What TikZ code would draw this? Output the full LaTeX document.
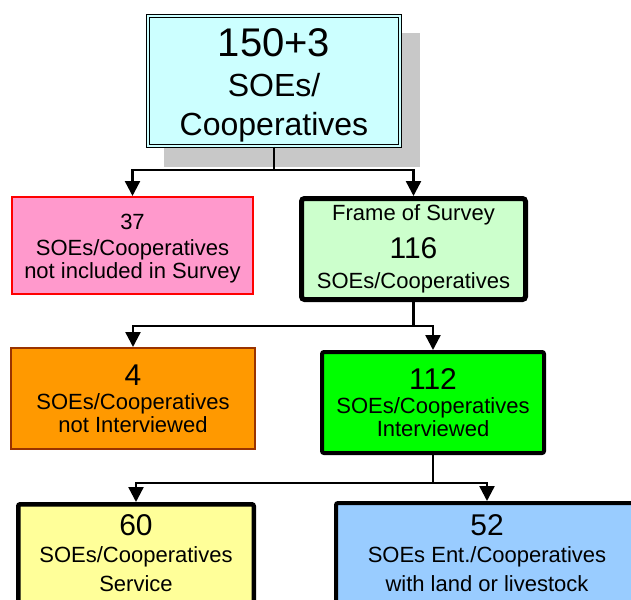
\documentclass[tikz,border=0pt]{standalone}
\usepackage{fontspec}
\setmainfont{Liberation Sans}
\usetikzlibrary{arrows.meta,shadows,calc}
\definecolor{topcyan}{HTML}{CCFFFF}
\definecolor{exclpink}{HTML}{FF99CC}
\definecolor{framegreen}{HTML}{CCFFCC}
\definecolor{notorange}{HTML}{FF9900}
\definecolor{notbrown}{HTML}{993300}
\definecolor{intgreen}{HTML}{00FF00}
\definecolor{servyellow}{HTML}{FFFF99}
\definecolor{landblue}{HTML}{99CCFF}
\definecolor{shadowgray}{HTML}{C8C8C8}
\newcommand{\txtfont}{\fontsize{22}{24}\selectfont}
\newcommand{\numfont}{\fontsize{30}{30}\selectfont}
\tikzset{
    block/.style = {draw, rectangle, inner sep=0pt, align=center, font=\txtfont},
    line/.style = {draw, line width=2.4pt},
    arrow/.style = {line, -{Triangle[length=15pt,width=15pt]}}
}

\begin{document}
\begin{tikzpicture}[x=1pt, y=-1pt]
    \useasboundingbox (0,0) rectangle (631,599);
    \clip (0,0) rectangle (631,599);
    % all units
    \node [block, fill=topcyan, line width=1.4pt, double=topcyan, double distance=1.6pt,
        minimum width=251.6pt, minimum height=129.6pt,
        drop shadow={shadow xshift=18pt, shadow yshift=-19pt, fill=shadowgray,
            draw=shadowgray, line width=4.4pt, opacity=1}]
        (total) at (274,81)
        {{\rule{0pt}{36pt}\fontsize{40}{40}\selectfont 150+3}\\[16pt]{\fontsize{32}{32}\selectfont SOEs/}\\[15pt]{\fontsize{32}{32}\selectfont Cooperatives}};
    % first split
    \node [block, fill=exclpink, draw=red, line width=2pt,
        minimum width=241pt, minimum height=97pt] (excl) at (132.5,245.5)
        {\rule{0pt}{20.6pt}37\\[2pt]SOEs/Cooperatives\\[-1pt]not included in Survey};
    \node [block, fill=framegreen, line width=5pt, rounded corners=3pt,
        minimum width=224pt, minimum height=101pt] (frame) at (413.5,249)
        {Frame of Survey\\[11pt]{\numfont 116}\\[6pt]SOEs/Cooperatives};
    % second split
    \node [block, fill=notorange, draw=notbrown, line width=2pt,
        minimum width=244pt, minimum height=101pt] (notint) at (133,398.5)
        {{\numfont 4}\\SOEs/Cooperatives\\[-1pt]not Interviewed};
    \node [block, fill=intgreen, line width=4pt, rounded corners=2pt,
        minimum width=222pt, minimum height=101pt] (interv) at (433,402.5)
        {{\numfont 112}\\SOEs/Cooperatives\\[-1pt]Interviewed};
    % third split
    \node [block, fill=servyellow, line width=4.5pt, rounded corners=2pt,
        minimum width=235.5pt, minimum height=98.3pt] (service) at (136,553.4)
        {{\numfont 60}\\[3pt]SOEs/Cooperatives\\[5pt]Service};
    \node [block, fill=landblue, line width=4pt, rounded corners=2pt,
        minimum width=302pt, minimum height=100.8pt] (land) at (487,553.4)
        {{\numfont 52}\\[3pt]SOEs Ent./Cooperatives\\[5pt]with land or livestock};
    % connectors
    \coordinate (split1) at (274,170);
    \coordinate (split2) at (413.5,326);
    \coordinate (split3) at (433,483);
    \draw [line] (total.south) -- (split1);
    \draw [arrow] (split1) -| (excl.north);
    \draw [arrow] (split1) -| (frame.north);
    \draw [line] (frame.south) -- (split2);
    \draw [arrow] (split2) -| (notint.north);
    \draw [arrow] (split2) -| (interv.north);
    \draw [line] (interv.south) -- (split3);
    \draw [arrow] (split3) -| (service.north);
    \draw [arrow] (split3) -| (land.north);
\end{tikzpicture}
\end{document}
